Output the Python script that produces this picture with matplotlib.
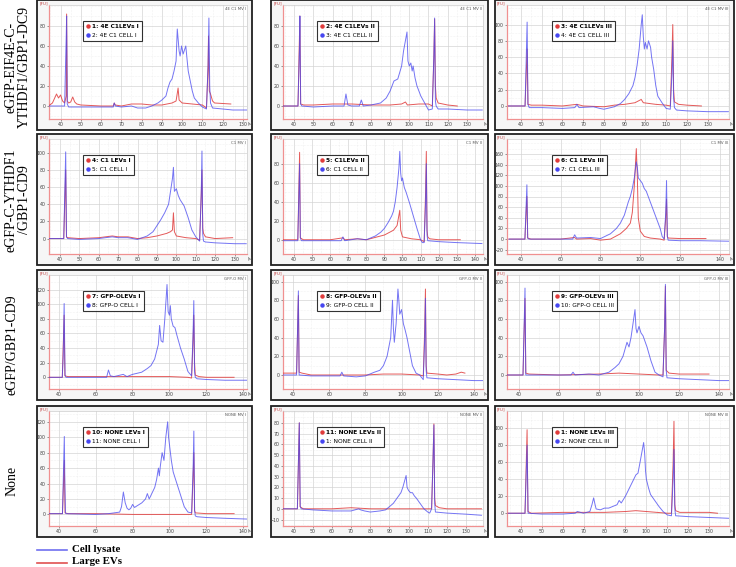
import matplotlib
matplotlib.use('Agg')
import matplotlib.pyplot as plt
from matplotlib.lines import Line2D
from matplotlib.patches import Rectangle
from matplotlib.ticker import MultipleLocator

row_labels = ['eGFP-EIF4E-C-\nYTHDF1/GBP1-DC9', 'eGFP-C-YTHDF1\n/GBP1-CD9', 'eGFP/GBP1-CD9', 'None']

panel_titles = ['4E C1 MV I', '4E C1 MV II', '4E C1 MV III',
                'C1 MV I', 'C1 MV II', 'C1 MV III',
                'GFP-O MV I', 'GFP-O MV II', 'GFP-O MV III',
                'NONE MV I', 'NONE MV II', 'NONE MV III']
lev_labels = ['1: 4E C1LEVs I', '2: 4E C1LEVs II', '3: 4E C1LEVs III',
              '4: C1 LEVs I', '5: C1LEVs II', '6: C1 LEVs III',
              '7: GFP-OLEVs I', '8: GFP-OLEVs II', '9: GFP-OLEVs III',
              '10: NONE LEVs I', '11: NONE LEVs II', '1: NONE LEVs III']
cell_labels = ['2: 4E C1 CELL I', '3: 4E C1 CELL II', '4: 4E C1 CELL III',
               '5: C1 CELL I', '6: C1 CELL II', '7: C1 CELL III',
               '8: GFP-O CELL I', '9: GFP-O CELL II', '10: GFP-O CELL III',
               '11: NONE CELL I', '1: NONE CELL II', '2: NONE CELL III']

# (time [s], signal [FU])
lev_1 = [(34, 0), (36, 3), (38, 12), (39, 8), (40, 11), (41, 5), (42, 3), (42.8, 10), (43, 92), (43.3, 5),
         (44, 3), (45, 4), (46, 9), (47, 4), (48, 2), (50, 1), (60, 0), (66, 0), (66.5, 3), (67, 1), (70, 0),
         (75, 2), (80, 2), (85, 1), (90, 1), (95, 3), (97, 5), (98, 18), (98.5, 6), (100, 3), (105, 2),
         (110, 1), (112, -2), (112.8, 40), (113, 70), (113.4, 15), (114, 12), (115, 5), (116, 3), (124, 2)]
cell_1 = [(34, 0), (42, 0), (42.8, 70), (43, 90), (43.3, 2), (44, -1), (50, -1), (60, -1), (66, -1),
          (66.5, 3), (67, 0), (70, -1), (75, 0), (78, -2), (82, -2), (85, 0), (88, 3), (90, 6), (92, 10),
          (93, 18), (94, 24), (95, 27), (96, 35), (97, 45), (97.6, 77), (98.5, 55), (99, 50), (99.7, 60),
          (100.5, 52), (101.8, 60), (102.5, 45), (103, 35), (104, 25), (105, 15), (106, 8), (108, 3),
          (110, -1), (112, -3), (112.8, 40), (113.2, 88), (113.6, 20), (114, 3), (115, -2), (120, -3),
          (125, -4), (132, -4)]
lev_2 = [(34, 0), (42, 0), (43, 90), (43.4, 2), (45, 1), (50, 1), (60, 2), (70, 2), (80, 1), (90, 1),
         (96, 2), (98, 4), (99, 1), (105, 2), (110, 2), (112, 0), (112.8, 50), (113.2, 87), (113.6, 20),
         (114, 8), (115, 3), (120, 1), (125, 0)]
cell_2 = [(34, 0), (42, 0), (42.8, 60), (43, 90), (43.4, 2), (44, 0), (50, -1), (60, 0), (66, 0),
          (67, 12), (68, 1), (70, 0), (74, 0), (75, 6), (76, 0), (80, 1), (85, 3), (88, 8), (90, 15), (92, 25),
          (94, 27), (96, 40), (97, 55), (98.8, 74), (99.3, 45), (100, 40), (100.8, 43), (101.5, 35),
          (102, 40), (103, 28), (104, 20), (106, 10), (108, 3), (110, -4), (112, -3), (112.8, 50),
          (113.2, 88), (113.6, 5), (114, 0), (115, -3), (120, -3), (130, -4), (138, -4)]
lev_3 = [(34, 0), (42, 0), (43, 70), (43.4, 2), (45, 1), (50, 1), (60, 0), (67, 2), (70, 0), (80, -1),
         (85, 1), (90, 2), (95, 4), (98, 8), (99, 4), (105, 2), (110, 1), (112, 0), (112.8, 60),
         (113.2, 100), (113.6, 20), (114, 5), (116, 2), (120, 1), (127, 0)]
cell_3 = [(34, 0), (42, 0), (43, 103), (43.4, 2), (44, -2), (50, -2), (60, -3), (66, -2), (67, 2), (68, -2),
          (75, -1), (78, -3), (80, -4), (85, -1), (88, 3), (90, 8), (92, 15), (94, 25), (95, 35), (96, 50),
          (97, 70), (98, 100), (98.5, 112), (99, 85), (99.5, 70), (100, 78), (100.8, 70), (101.5, 80),
          (102.5, 72), (103, 60), (104, 45), (105, 25), (106, 12), (108, 4), (110, -3), (112, -4),
          (112.8, 40), (113.2, 80), (113.6, 10), (114, -2), (115, -5), (120, -6), (130, -7), (140, -7)]
lev_4 = [(34, 0), (42, 0), (43, 80), (43.4, 2), (44, 1), (50, 0), (60, 1), (67, 3), (70, 2), (75, 2),
         (80, 0), (85, 1), (90, 3), (95, 6), (97, 8), (98, 10), (98.5, 30), (99, 8), (100, 3), (105, 1),
         (110, 0), (112, -2), (112.8, 50), (113.2, 80), (113.6, 12), (114, 6), (115, 2), (120, 0), (129, 1)]
cell_4 = [(34, 0), (42, 0), (43, 101), (43.4, 2), (44, 0), (50, -1), (60, 0), (67, 2), (70, 1), (75, 1),
          (80, -1), (85, 3), (88, 8), (90, 15), (92, 22), (94, 30), (95, 35), (96, 40), (97, 55), (98, 70),
          (98.5, 83), (99, 55), (100, 58), (101, 50), (102, 45), (104, 38), (106, 25), (108, 10), (110, 2),
          (112, -3), (112.8, 50), (113.2, 102), (113.6, 5), (114, -3), (115, -4), (120, -5), (130, -6),
          (136, -6)]
lev_5 = [(34, 0), (42, 0), (43, 92), (43.4, 2), (45, 0), (60, 0), (67, 2), (68, 0), (75, 1), (80, 0),
         (90, 5), (95, 10), (97, 15), (98.5, 31), (99, 10), (100, 3), (105, 1), (110, 0), (112, -2),
         (112.8, 50), (113.2, 93), (113.6, 10), (114, 3), (115, 1), (120, 0), (132, 0)]
cell_5 = [(34, -1), (42, -1), (43, 80), (43.4, 2), (44, -1), (60, -1), (66, -1), (67, 3), (68, -1),
          (75, 1), (80, 0), (85, 4), (88, 8), (90, 12), (92, 18), (94, 25), (95, 30), (96, 40), (97, 55),
          (98, 75), (98.5, 93), (99, 70), (99.5, 62), (100, 65), (101, 55), (102, 50), (104, 38),
          (106, 25), (108, 12), (110, 0), (111, -3), (112, -3), (112.8, 40), (113.2, 80), (113.6, 5),
          (114, -1), (120, -2), (130, -3), (144, -4)]
lev_6 = [(34, 0), (42, 0), (43, 80), (43.4, 2), (45, 0), (60, 0), (67, 3), (68, 0), (75, 1), (80, -2),
         (85, 0), (90, 10), (93, 20), (95, 30), (96, 50), (97, 100), (98, 170), (98.5, 120), (99, 40),
         (100, 15), (102, 5), (105, 2), (110, 0), (112, -2), (112.8, 40), (113.2, 75), (113.6, 5),
         (114, 2), (120, 1), (133, 1)]
cell_6 = [(34, 0), (42, 0), (43, 102), (43.4, 2), (44, 0), (60, 0), (66, 0), (67, 8), (68, 2), (75, 3),
          (80, 1), (85, 10), (88, 20), (90, 30), (92, 45), (94, 70), (95, 80), (96, 95), (97, 115),
          (98, 145), (98.5, 135), (99, 115), (100, 110), (101, 105), (102, 95), (103, 90), (104, 80),
          (106, 60), (108, 40), (110, 20), (111, 5), (112, 0), (112.8, 50), (113.2, 110), (113.6, 5),
          (114, -2), (120, -3), (130, -3), (145, -4)]
lev_7 = [(34, 0), (42, 0), (43, 85), (43.4, 2), (45, 1), (60, 1), (80, 1), (100, 1), (110, 0), (112, -1),
         (112.8, 50), (113.2, 85), (113.6, 20), (114, 3), (116, 1), (120, 0), (135, 0)]
cell_7 = [(34, 0), (42, 0), (42.5, 30), (43, 101), (43.5, 3), (44, 0), (60, 0), (66, 0), (67, 10),
          (68, 2), (70, 1), (75, 4), (77, 1), (80, 4), (85, 7), (88, 12), (90, 16), (92, 25), (94, 45),
          (94.7, 71), (95.5, 50), (96.5, 48), (97.5, 80), (98.7, 127), (99.3, 90), (100, 85), (100.5, 98),
          (101, 80), (102, 70), (103, 68), (104, 58), (106, 40), (108, 25), (110, 8), (112, 2),
          (112.8, 60), (113.2, 105), (113.6, 8), (114, 0), (115, -2), (120, -3), (130, -4), (142, -4)]
lev_8 = [(34, 2), (42, 2), (43, 85), (43.4, 3), (45, 2), (50, 0), (60, 0), (70, 0), (80, 0), (90, 1),
         (100, 1), (110, 0), (112, -1), (112.8, 50), (113.2, 92), (113.6, 10), (114, 2), (120, 1),
         (125, 0), (130, 1), (133, 3), (135, 2)]
cell_8 = [(34, 0), (42, 0), (43, 90), (43.4, 0), (50, -1), (60, -1), (66, -1), (67, 3), (68, -1),
          (75, -2), (80, -1), (85, 3), (88, 5), (90, 10), (92, 20), (94, 40), (95, 80), (95.5, 50),
          (96, 35), (97, 55), (98, 92), (98.5, 80), (99, 65), (100, 70), (101, 55), (102, 48), (103, 40),
          (104, 30), (105, 20), (106, 10), (108, 2), (110, 0), (112, -5), (112.8, 40), (113.2, 82),
          (113.6, 5), (114, -3), (120, -4), (130, -5), (140, -6), (145, -6)]
lev_9 = [(34, 0), (42, 0), (43, 82), (43.4, 2), (45, 1), (60, 0), (80, 1), (90, 2), (100, 1), (110, 0),
         (112, 0), (112.8, 50), (113.2, 95), (113.6, 5), (115, 2), (120, 1), (130, 1), (135, 1)]
cell_9 = [(34, 0), (42, 0), (43, 93), (43.4, 0), (60, 0), (66, 0), (67, 3), (68, 0), (75, 1), (80, 0),
          (85, 3), (88, 8), (90, 12), (92, 20), (94, 35), (95, 30), (96, 40), (97, 55), (98, 70),
          (98.5, 50), (99, 45), (100, 52), (101, 45), (102, 42), (104, 30), (106, 15), (108, 3), (110, 0),
          (111, -1), (112, -2), (112.8, 50), (113.2, 97), (113.6, 5), (114, -3), (120, -4), (130, -5),
          (140, -6), (145, -6)]
lev_10 = [(34, 1), (42, 1), (43, 70), (43.4, 2), (45, 1), (60, 1), (80, 0), (100, 0), (110, 0),
          (112, 0), (112.8, 50), (113.2, 80), (113.6, 5), (114, 2), (120, 1), (135, 1)]
cell_10 = [(34, 1), (42, 1), (43, 101), (43.3, 40), (43.6, 2), (44, 1), (60, 0), (67, 1), (70, 2),
           (73, 3), (74, 10), (75, 29), (76, 15), (77, 8), (78, 6), (79, 8), (80, 13), (81, 9), (83, 12),
           (85, 15), (87, 20), (88, 27), (89, 20), (90, 25), (92, 35), (93, 45), (94, 60), (94.5, 50),
           (95, 62), (96, 80), (97, 70), (98, 100), (99, 120), (99.5, 100), (100, 90), (101, 70),
           (102, 55), (104, 40), (106, 25), (108, 10), (110, 3), (112, 2), (112.8, 60), (113.2, 108),
           (113.6, 5), (114, -2), (115, -3), (120, -4), (130, -5), (142, -6)]
lev_11 = [(34, 0), (42, 0), (43, 80), (43.4, 2), (45, 0), (60, 0), (70, 1), (80, 0), (90, 0), (100, 0),
          (110, 0), (112, 0), (112.8, 50), (113.2, 79), (113.6, 10), (114, 3), (116, 1), (120, 0),
          (130, 0), (138, 0)]
cell_11 = [(34, 0), (42, 0), (43, 80), (43.5, 2), (44, 0), (50, -1), (60, -2), (70, -2), (74, 0),
           (75, -1), (77, -2), (80, -3), (85, -2), (88, -1), (90, 2), (92, 5), (94, 10), (96, 15), (97, 20),
           (98.7, 31), (99.2, 20), (100, 17), (101, 15), (102, 15), (103, 12), (104, 10), (106, 5),
           (108, 0), (110, -3), (111, -4), (112, 0), (112.8, 50), (113.2, 78), (113.6, 5), (114, -3),
           (120, -4), (130, -5), (138, -6)]
lev_12 = [(34, 0), (42, 0), (43, 98), (43.4, 2), (45, 0), (60, 1), (80, 1), (90, 2), (95, 3), (100, 2),
          (110, 0), (112, 0), (112.8, 60), (113.2, 108), (113.6, 10), (114, 3), (116, 1), (120, 1),
          (130, 1), (134, 0)]
cell_12 = [(34, 0), (42, 0), (43, 80), (43.5, 0), (50, -1), (60, -1), (66, 0), (67, 2), (70, 0), (73, 2),
           (74, 10), (74.8, 18), (75.5, 10), (76, 5), (78, 4), (80, 6), (82, 6), (84, 8), (86, 10),
           (87, 15), (88, 12), (90, 20), (92, 30), (93, 35), (94, 40), (95, 45), (96, 47), (97, 60),
           (98.7, 83), (99.2, 70), (99.6, 50), (100, 40), (101, 30), (102, 22), (104, 15), (106, 8),
           (108, 2), (110, -2), (112, -3), (112.8, 40), (113.2, 75), (113.6, 5), (114, -3), (120, -4),
           (130, -5), (140, -6)]

levs = [lev_1, lev_2, lev_3, lev_4, lev_5, lev_6, lev_7, lev_8, lev_9, lev_10, lev_11, lev_12]
cells = [cell_1, cell_2, cell_3, cell_4, cell_5, cell_6, cell_7, cell_8, cell_9, cell_10, cell_11, cell_12]

# axis settings per panel
x_limits = [(34.3, 132), (34.2, 138.4), (33.3, 140.3),
            (34.4, 136.4), (33.8, 144.6), (33, 144.6),
            (34.8, 142), (34.5, 145), (34, 145),
            (34.7, 142), (34.5, 138.8), (33.4, 139.5)]
y_limits = [(-13, 101), (-13, 101), (-16, 124),
            (-18, 116), (-15, 106), (-28, 188),
            (-16, 140), (-15, 107), (-15, 107),
            (-15, 134), (-16, 91), (-15, 120)]
x_ticks = [(40, 130, 10), (40, 130, 10), (40, 130, 10),
           (40, 130, 10), (40, 140, 10), (40, 140, 20),
           (40, 140, 20), (40, 140, 20), (40, 140, 20),
           (40, 140, 20), (40, 130, 10), (40, 130, 10)]
y_ticks = [(0, 80, 20), (0, 80, 20), (0, 100, 20),
           (0, 100, 20), (0, 80, 20), (-20, 160, 20),
           (0, 120, 20), (0, 100, 20), (0, 100, 20),
           (0, 120, 20), (-10, 80, 10), (0, 100, 20)]

W, H = 736, 567
box_cols = [(37, 252), (271, 488), (495, 734)]
box_rows = [(0, 130), (134, 265), (270, 400), (406, 537)]

RED = '#e03c3c'
BLUE = '#4646f0'


def fig_rect(x0, y0, x1, y1):
    return [x0 / W, 1 - y1 / H, (x1 - x0) / W, (y1 - y0) / H]


fig = plt.figure(figsize=(W / 100, H / 100), dpi=100)

for i in range(12):
    r, c = divmod(i, 3)
    bx0, bx1 = box_cols[c]
    by0, by1 = box_rows[r]

    # outer frame of each screenshot
    fig.patches.append(Rectangle((bx0 / W, 1 - by1 / H), (bx1 - bx0) / W, (by1 - by0) / H,
                                 transform=fig.transFigure, facecolor='#f6f6f6',
                                 edgecolor='#202020', lw=1.3, zorder=-5))

    ax = fig.add_axes(fig_rect(bx0 + 12, by0 + 5, bx1 - 5, by1 - 11))
    ax.set_facecolor('white')

    lx = [p[0] for p in levs[i]]
    ly = [p[1] for p in levs[i]]
    cx = [p[0] for p in cells[i]]
    cy = [p[1] for p in cells[i]]
    ax.plot(lx, ly, color=RED, lw=0.7, alpha=0.85, zorder=3)
    ax.plot(cx, cy, color=BLUE, lw=0.7, alpha=0.75, zorder=4)

    ax.set_xlim(*x_limits[i])
    ax.set_ylim(*y_limits[i])
    a, b, s = x_ticks[i]
    ax.set_xticks(list(range(a, b + 1, s)))
    a, b, s = y_ticks[i]
    ax.set_yticks(list(range(a, b + 1, s)))
    ax.xaxis.set_minor_locator(MultipleLocator(x_ticks[i][2] / 2))
    ax.yaxis.set_minor_locator(MultipleLocator(y_ticks[i][2] / 2))
    ax.grid(True, which='major', color='#d4d4d4', lw=0.5)
    ax.grid(True, which='minor', color='#e6e6e6', lw=0.4, ls=':')
    ax.set_axisbelow(True)
    ax.tick_params(labelsize=3.4, length=1.5, width=0.4, pad=1, colors='#444444')
    ax.tick_params(which='minor', length=0)
    for sp in ['left', 'bottom']:
        ax.spines[sp].set_color('#f09090')
        ax.spines[sp].set_linewidth(0.9)
    for sp in ['top', 'right']:
        ax.spines[sp].set_color('#cccccc')
        ax.spines[sp].set_linewidth(0.5)

    ax.text(-0.045, 1.0, '[FU]', transform=ax.transAxes, fontsize=3, color='#c04040',
            ha='left', va='bottom')
    ax.text(1.004, -0.02, '[s]', transform=ax.transAxes, fontsize=3, color='#444444',
            ha='left', va='top')
    ax.text(0.995, 0.985, panel_titles[i], transform=ax.transAxes, fontsize=2.8, color='#555555',
            ha='right', va='top')

    handles = [Line2D([], [], color=RED, marker='o', ms=2.2, lw=0),
               Line2D([], [], color=BLUE, marker='o', ms=2.2, lw=0)]
    off_x = 57 if c == 2 else 46
    axw = (bx1 - 5) - (bx0 + 12)
    axh = (by1 - 11) - (by0 + 5)
    leg = ax.legend(handles, [lev_labels[i], cell_labels[i]], loc='upper left',
                    bbox_to_anchor=((bx0 + off_x - (bx0 + 12)) / axw, 1 - 16 / axh),
                    fontsize=4.2, frameon=True, fancybox=False, borderpad=0.5,
                    handlelength=0.6, handletextpad=0.5, labelspacing=0.6, borderaxespad=0)
    leg.get_frame().set_edgecolor('black')
    leg.get_frame().set_linewidth(0.8)
    leg.get_texts()[0].set_fontweight('bold')

# row labels
row_centers = [67, 200, 345, 481]
row_x = [18, 18, 12, 12]
for lab, yc, xc in zip(row_labels, row_centers, row_x):
    fig.text(xc / W, 1 - yc / H, lab, rotation=90, ha='center', va='center',
             family='Liberation Serif', fontsize=10, linespacing=1.0)

# bottom legend
fig.add_artist(Line2D([37 / W, 67 / W], [1 - 550 / H, 1 - 550 / H], color='#7070f0', lw=1.2,
                      transform=fig.transFigure))
fig.add_artist(Line2D([37 / W, 67 / W], [1 - 563 / H, 1 - 563 / H], color='#e05050', lw=1.2,
                      transform=fig.transFigure))
fig.text(72 / W, 1 - 549 / H, 'Cell lysate', family='Liberation Serif', fontweight='bold',
         fontsize=7.8, va='center', ha='left')
fig.text(72 / W, 1 - 561.5 / H, 'Large EVs', family='Liberation Serif', fontweight='bold',
         fontsize=7.8, va='center', ha='left')

fig.savefig('out.png', dpi=100)
